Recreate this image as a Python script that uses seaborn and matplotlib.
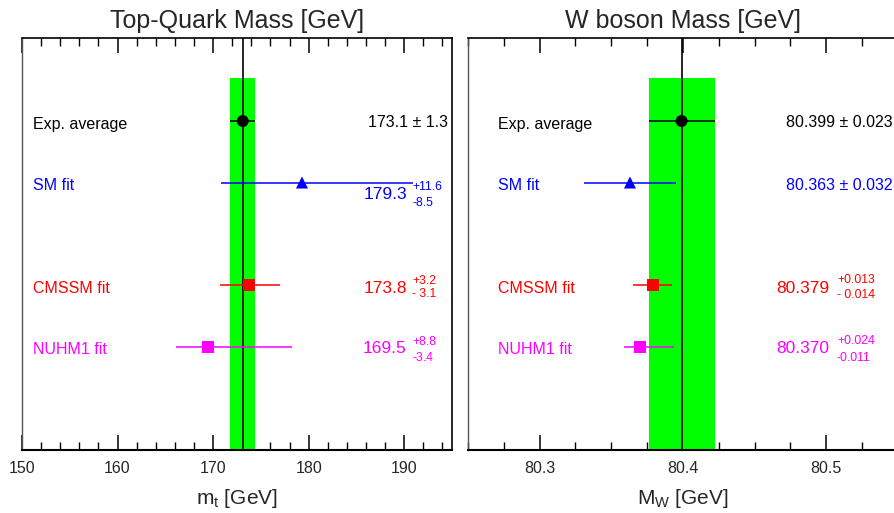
import numpy as np
import pandas as pd
import matplotlib
matplotlib.use("Agg")
import matplotlib.pyplot as plt
import seaborn as sns
from matplotlib.ticker import MultipleLocator
import matplotlib.transforms as mtrans

# ---------------- data ----------------
labels = ["Exp. average", "SM fit", "CMSSM fit", "NUHM1 fit"]
colors = ["#000000", "#0000ff", "#ff0000", "#ff00ff"]
markers = ["o", "^", "s", "s"]

mt_central = [173.1, 179.3, 173.8, 169.5]
mt_err_up = [1.3, 11.6, 3.2, 8.8]
mt_err_down = [1.3, 8.5, 3.1, 3.4]
mt_main_text = ["173.1 \u00b1 1.3", "179.3", "173.8", "169.5"]
mt_up_text = [None, "+11.6", "+3.2", "+8.8"]
mt_down_text = [None, "-8.5", "- 3.1", "-3.4"]

mw_central = [80.399, 80.363, 80.379, 80.370]
mw_err_up = [0.023, 0.032, 0.013, 0.024]
mw_err_down = [0.023, 0.032, 0.014, 0.011]
mw_main_text = ["80.399 \u00b1 0.023", "80.363 \u00b1 0.032", "80.379", "80.370"]
mw_up_text = [None, None, "+0.013", "+0.024"]
mw_down_text = [None, None, "- 0.014", "-0.011"]

# ---------------- style ----------------
sns.set_theme(style="ticks")
plt.rcParams["font.family"] = ["Liberation Sans", "DejaVu Sans"]
plt.rcParams["mathtext.fontset"] = "custom"
plt.rcParams["mathtext.rm"] = "Liberation Sans"
plt.rcParams["mathtext.it"] = "Liberation Sans:italic"

W, H = 894, 513
fig = plt.figure(figsize=(W / 100, H / 100), dpi=100)
top_px, bot_px = 38, 450
ax_h = (bot_px - top_px) / H
ax1 = fig.add_axes([22 / W, 1 - bot_px / H, 430 / W, ax_h])
ax2 = fig.add_axes([468 / W, 1 - bot_px / H, 430 / W, ax_h])

rows = [1.0, 2.0, 3.67, 4.67]
ylim = (6.35, -0.35)
band_top = 0.30


def draw_panel(ax, central, up, down, main_txt, up_txt, down_txt, xlim, major, minor,
               title, xlabel, label_x, main_x_sym, main_x_asym, sup_x, offsets):
    ax.set_xlim(*xlim)
    ax.set_ylim(*ylim)
    c0, e0u, e0d = central[0], up[0], down[0]
    # experimental band and line
    ax.fill_betweenx([band_top, ylim[0]], c0 - e0d, c0 + e0u, color="#00ff00", lw=0, zorder=1)
    ax.axvline(c0, color="black", lw=1.2, zorder=2)
    # error bars
    for i in range(len(central)):
        ax.hlines(rows[i], central[i] - down[i], central[i] + up[i], color=colors[i], lw=1.1, zorder=3)
    df = pd.DataFrame({"x": central, "y": rows, "label": labels})
    sns.scatterplot(data=df, x="x", y="y", hue="label", style="label",
                    palette=dict(zip(labels, colors)), markers=dict(zip(labels, markers)),
                    s=75, edgecolor="none", legend=False, ax=ax, zorder=4)
    blend = mtrans.blended_transform_factory(ax.transAxes, ax.transData)
    for i in range(len(central)):
        ax.text(label_x, rows[i] + 0.05, labels[i], color=colors[i], fontsize=11.5,
                ha="left", va="center", transform=blend)
        mo, uo, do = offsets[i]
        if up_txt[i] is None:
            ax.text(main_x_sym, rows[i] + mo, main_txt[i], color=colors[i], fontsize=11.5,
                    ha="right", va="center", transform=blend)
        else:
            ax.text(main_x_asym, rows[i] + mo, main_txt[i], color=colors[i], fontsize=12.5,
                    ha="right", va="center", transform=blend)
            ax.text(sup_x, rows[i] + uo, up_txt[i], color=colors[i], fontsize=8.8,
                    ha="left", va="center", transform=blend)
            ax.text(sup_x, rows[i] + do, down_txt[i], color=colors[i], fontsize=8.8,
                    ha="left", va="center", transform=blend)
    ax.xaxis.set_major_locator(MultipleLocator(major))
    ax.xaxis.set_minor_locator(MultipleLocator(minor))
    ax.tick_params(axis="x", which="major", direction="in", length=11, width=1.1,
                   top=True, bottom=True, labelsize=11.5, pad=8, color="black")
    ax.tick_params(axis="x", which="minor", direction="in", length=5.5, width=1.0,
                   top=True, bottom=True, color="black")
    ax.set_yticks([])
    ax.set_ylabel("")
    for name, sp in ax.spines.items():
        sp.set_visible(True)
        sp.set_color("black")
    ax.spines["left"].set_linewidth(1.0)
    ax.spines["left"].set_color("#555555")
    ax.spines["right"].set_linewidth(1.2)
    ax.spines["top"].set_linewidth(1.2)
    ax.spines["bottom"].set_linewidth(1.5)
    ax.set_title(title, fontsize=18, pad=7)
    ax.set_xlabel(xlabel, fontsize=15, labelpad=8)


draw_panel(ax1, mt_central, mt_err_up, mt_err_down, mt_main_text, mt_up_text, mt_down_text,
           (150, 195), 10, 2, "Top-Quark Mass [GeV]", r"m$_\mathrm{t}$ [GeV]",
           0.026, 0.991, 0.895, 0.907,
           [(0.03, 0, 0), (0.2, 0.065, 0.33), (0.05, -0.065, 0.15), (0.03, -0.08, 0.18)])
draw_panel(ax2, mw_central, mw_err_up, mw_err_down, mw_main_text, mw_up_text, mw_down_text,
           (80.25, 80.55), 0.1, 0.025, "W boson Mass [GeV]", r"M$_\mathrm{W}$ [GeV]",
           0.07, 0.988, 0.840, 0.858,
           [(0.03, 0, 0), (0.05, 0, 0), (0.05, -0.09, 0.16), (0.03, -0.1, 0.18)])

fig.savefig("out.png", dpi=100)
